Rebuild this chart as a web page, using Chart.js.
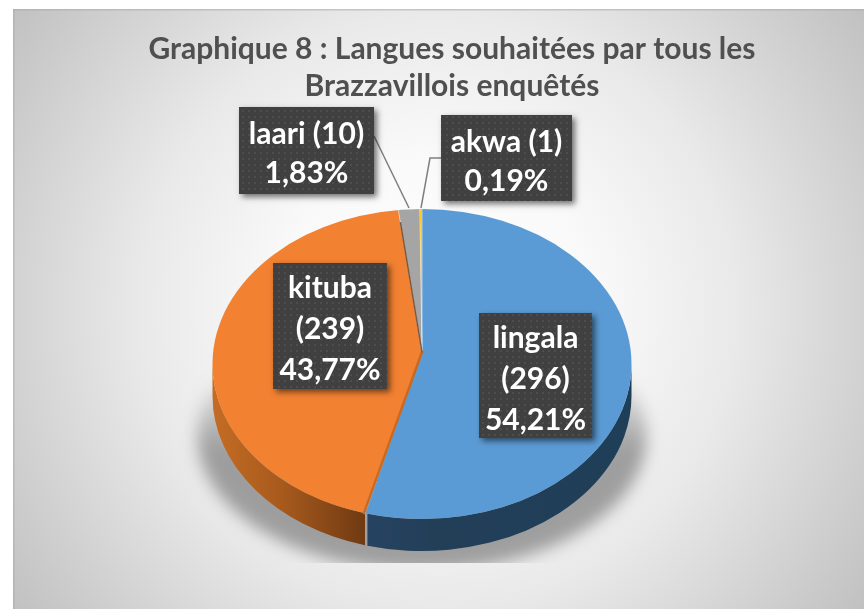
<!DOCTYPE html>
<html><head><meta charset="utf-8">
<style>html,body{margin:0;padding:0;background:#fff;overflow:hidden}canvas{display:block}</style>
<script src="https://cdn.jsdelivr.net/npm/chart.js@4/dist/chart.umd.min.js"></script>
</head><body>
<canvas id="c" width="864" height="609"></canvas>
<script>
const titleLines = ['Graphique 8 : Langues souhaitées par tous les', 'Brazzavillois enquêtés'];
const categories = ['lingala', 'kituba', 'laari', 'akwa'];
const counts = [296, 239, 10, 1];
const percents = ['54,21%', '43,77%', '1,83%', '0,19%'];
const sliceColors = ['#5B9BD5', '#F28132', '#A5A5A5', '#FFC000'];

// label layout (boxes and how the text wraps)
const labelBoxes = [
  {x:479, y:313, w:113, h:125, lines:[categories[0], '('+counts[0]+')', percents[0]]},
  {x:273, y:263, w:114, h:126, lines:[categories[1], '('+counts[1]+')', percents[1]]},
  {x:239, y:107, w:135, h:87,  lines:[categories[2]+' ('+counts[2]+')', percents[2]]},
  {x:441, y:115, w:131, h:86,  lines:[categories[3]+' ('+counts[3]+')', percents[3]]}
];
const FONT = 'Lato, "Open Sans", sans-serif';
const P = {cx:422, cy:364, rx:209.5, ry:155, depth:32, apexY:352, sq:0.766, over:245};

function dotPattern(ctx){
  const p = document.createElement('canvas'); p.width = 12; p.height = 12;
  const g = p.getContext('2d');
  g.fillStyle = '#404040'; g.fillRect(0,0,12,12);
  g.fillStyle = '#4d4d4d';
  g.fillRect(2,2,2,2); g.fillRect(8,8,2,2); g.fillRect(8,2,2,2); g.fillRect(2,8,2,2);
  return ctx.createPattern(p,'repeat');
}
function boundaryAngle(chart){
  const arc = chart.getDatasetMeta(0).data[0];
  const a = arc.endAngle;
  const dx = Math.cos(a), dy = Math.sin(a)*P.sq;
  let lo = 0, hi = 600;
  for (let i=0;i<50;i++){
    const m=(lo+hi)/2, x=P.cx+dx*m, y=P.apexY+dy*m;
    const v=((x-P.cx)/P.rx)**2+((y-P.cy)/P.ry)**2;
    if(v<1) lo=m; else hi=m;
  }
  const x=P.cx+dx*lo, y=P.apexY+dy*lo;
  return {x,y,t:Math.atan2((y-P.cy)/P.ry,(x-P.cx)/P.rx)};
}
function wall(ctx,t0,t1,fill){
  ctx.beginPath();
  ctx.ellipse(P.cx,P.cy,P.rx,P.ry,0,t0,t1);
  ctx.ellipse(P.cx,P.cy+P.depth,P.rx,P.ry,0,t1,t0,true);
  ctx.closePath();
  ctx.fillStyle=fill; ctx.fill();
}
const pie3d = {
  id:'pie3d',
  beforeDraw(chart){
    const ctx=chart.ctx;
    ctx.save();
    ctx.fillStyle='#fff'; ctx.fillRect(0,0,864,609);
    ctx.beginPath(); ctx.rect(13,9,851,600); ctx.clip();
    const g=ctx.createRadialGradient(438,309,0,438,309,525);
    g.addColorStop(0,'#ffffff'); g.addColorStop(0.3,'#f9f9f9'); g.addColorStop(0.57,'#e9e9e9'); g.addColorStop(1,'#c0c0c0');
    ctx.fillStyle=g; ctx.fillRect(13,9,851,600);
    ctx.fillStyle='rgba(170,170,170,.55)'; ctx.fillRect(13,9,851,1.5);
    ctx.fillRect(13,9,1.5,600);
    // soft ground shadow, fading upward
    ctx.save();
    ctx.beginPath(); ctx.rect(170,360,510,203); ctx.clip();
    ctx.filter='blur(8px)';
    const s=ctx.createLinearGradient(0,372,0,450);
    s.addColorStop(0,'rgba(120,120,120,0)'); s.addColorStop(1,'rgba(120,120,120,.68)');
    ctx.fillStyle=s;
    ctx.beginPath(); ctx.ellipse(P.cx,P.cy+72,P.rx+15,P.ry-20,0,0,Math.PI*2); ctx.fill();
    ctx.restore();
    ctx.restore();
  },
  beforeDatasetsDraw(chart){
    const ctx=chart.ctx, arc=chart.getDatasetMeta(0).data[0];
    const b=boundaryAngle(chart);
    const go=ctx.createLinearGradient(P.cx-P.rx,0,b.x,0);
    go.addColorStop(0,'#c46c24'); go.addColorStop(.45,'#a85a1d'); go.addColorStop(1,'#6f3a12');
    wall(ctx,b.t,Math.PI,go);
    const gb=ctx.createLinearGradient(b.x,0,P.cx+P.rx,0);
    gb.addColorStop(0,'#264362'); gb.addColorStop(.25,'#233f58'); gb.addColorStop(1,'#1f3e58');
    wall(ctx,0,b.t-0.012,gb);
    ctx.save();
    ctx.beginPath(); ctx.ellipse(P.cx,P.cy,P.rx,P.ry,0,0,Math.PI*2); ctx.clip();
    const k=P.over/arc.outerRadius;
    ctx.translate(P.cx,P.apexY); ctx.scale(k,k*P.sq); ctx.translate(-arc.x,-arc.y);
  },
  afterDatasetsDraw(chart){
    const ctx=chart.ctx;
    ctx.restore();
    const meta=chart.getDatasetMeta(0).data, b=boundaryAngle(chart);
    ctx.save();
    ctx.lineCap='round';
    ctx.strokeStyle='#c96a22'; ctx.lineWidth=2.5;
    ctx.beginPath(); ctx.moveTo(P.cx,P.apexY); ctx.lineTo(b.x-1,b.y); ctx.stroke();
    const a=meta[1].endAngle;
    ctx.strokeStyle='#7a5a44'; ctx.lineWidth=1.5;
    ctx.beginPath(); ctx.moveTo(P.cx,P.apexY);
    ctx.lineTo(P.cx+Math.cos(a)*170,P.apexY+Math.sin(a)*170*P.sq); ctx.stroke();
    // leader lines
    ctx.strokeStyle='#7f7f7f'; ctx.lineWidth=1.5; ctx.lineCap='butt';
    ctx.beginPath(); ctx.moveTo(374,136); ctx.lineTo(409,208); ctx.stroke();
    ctx.beginPath(); ctx.moveTo(441,158); ctx.lineTo(430,158); ctx.lineTo(421,208); ctx.stroke();
    // labels
    const pat=dotPattern(ctx);
    for(const l of labelBoxes){
      ctx.save();
      ctx.shadowColor='rgba(0,0,0,.55)'; ctx.shadowBlur=6; ctx.shadowOffsetX=3; ctx.shadowOffsetY=3;
      ctx.fillStyle='#404040'; ctx.fillRect(l.x,l.y,l.w,l.h);
      ctx.restore();
      ctx.fillStyle=pat; ctx.fillRect(l.x,l.y,l.w,l.h);
      ctx.fillStyle='#fff'; ctx.font='bold 30px '+FONT; ctx.textAlign='center'; ctx.textBaseline='middle';
      const lh=l.lines.length===3?41:39;
      l.lines.forEach((t,i)=>{
        ctx.fillText(t,l.x+l.w/2,l.y+l.h/2+3.5+(i-(l.lines.length-1)/2)*lh);
      });
    }
    ctx.restore();
  }
};
new Chart(document.getElementById('c'),{
  type:'pie',
  data:{labels:categories,datasets:[{data:counts,backgroundColor:sliceColors,borderColor:'rgba(255,255,255,.35)',borderWidth:1,hoverOffset:0}]},
  options:{
    responsive:false,animation:false,
    layout:{padding:{left:40,top:0,right:0,bottom:0}},
    plugins:{
      legend:{display:false},tooltip:{enabled:false},
      title:{display:true,text:titleLines,color:'#505050',
        font:{family:FONT,size:30,weight:'bold',lineHeight:1.233},
        padding:{top:31,bottom:10}}
    }
  },
  plugins:[pie3d]
});
</script>
</body></html>
